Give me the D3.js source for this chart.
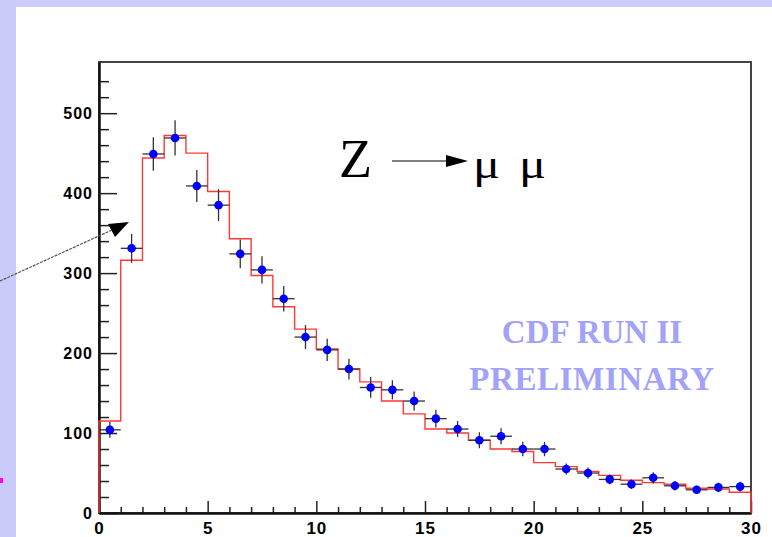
<!DOCTYPE html>
<html>
<head>
<meta charset="utf-8">
<script src="https://cdn.jsdelivr.net/npm/d3@7"></script>
<style>
    body { margin: 0; background: #ffffff; }
    .axis text { font-family: "Liberation Sans", Arial, sans-serif; font-weight: bold; fill: #000; }
</style>
</head>
<body>
<div id="chartdiv"></div>
<script>
// data
const binLowEdges = [0, 1, 2, 3, 4, 5, 6, 7, 8, 9, 10, 11, 12, 13, 14, 15, 16, 17, 18, 19, 20, 21, 22, 23, 24, 25, 26, 27, 28, 29];
const mcCounts = [115, 316, 444, 472, 450, 402, 343, 297, 258, 230, 205, 180, 164, 140, 124, 105, 100, 91, 80, 77, 63, 58, 52, 47, 41, 38, 36, 31, 30, 26];
const dataCounts = [104, 331, 449, 469, 409, 385, 324, 304, 268, 220, 204, 180, 157, 154, 140, 118, 105, 91, 96, 80, 80, 55, 50, 42, 36, 44, 34, 29, 32, 33];
const dataErrors = [10, 18, 21, 22, 20, 20, 18, 17, 16, 15, 14, 13, 13, 12, 12, 11, 10, 10, 10, 9, 9, 7, 7, 6, 6, 7, 6, 5, 6, 6];
const xTickLabels = [0, 5, 10, 15, 20, 25, 30];
const yTickLabels = [0, 100, 200, 300, 400, 500];
const binWidth = 1;

// draw
{
    let width = 772,
        height = 537,
        margin = { top: 62, right: 21, bottom: 24, left: 99 };

    let x = d3.scaleLinear()
        .domain([0, 30])
        .range([margin.left, width - margin.right]);
    let y = d3.scaleLinear()
        .domain([0, 564])
        .range([height - margin.bottom, margin.top]);

    let svg = d3.select("#chartdiv").append("svg")
        .attr("width", width)
        .attr("height", height);

    // lavender page border
    svg.append("rect").attr("x", 0).attr("y", 0).attr("width", width).attr("height", 7).attr("fill", "#cbcbfb");
    svg.append("rect").attr("x", 0).attr("y", 0).attr("width", 16).attr("height", height).attr("fill", "#cbcbfb");
    svg.append("rect").attr("x", 0).attr("y", 478).attr("width", 3).attr("height", 5).attr("fill", "#ff00ff");

    // frame
    svg.append("rect")
        .attr("x", margin.left)
        .attr("y", margin.top)
        .attr("width", width - margin.left - margin.right)
        .attr("height", height - margin.top - margin.bottom)
        .attr("fill", "none")
        .attr("stroke", "#444")
        .attr("stroke-width", 2);

    // minor ticks
    let yMinor = d3.range(0, 560, 20).filter(v => v % 100 != 0);
    svg.append("g")
        .attr("transform", "translate(" + margin.left + ",0)")
        .call(d3.axisLeft(y).tickValues(yMinor).tickSize(-10).tickFormat(""))
        .call(g => g.select(".domain").remove())
        .selectAll("line").attr("stroke", "#222").attr("stroke-width", 1.5);
    let xMinor = binLowEdges.filter(v => v % 5 != 0);
    svg.append("g")
        .attr("transform", "translate(0," + y(0) + ")")
        .call(d3.axisBottom(x).tickValues(xMinor).tickSize(-6).tickFormat(""))
        .call(g => g.select(".domain").remove())
        .selectAll("line").attr("stroke", "#222").attr("stroke-width", 1.5);

    // major axes
    let yAxis = svg.append("g")
        .attr("class", "axis")
        .attr("transform", "translate(" + margin.left + ",0)")
        .call(d3.axisLeft(y).tickValues(yTickLabels).tickSize(-18).tickSizeOuter(0).tickPadding(6));
    yAxis.selectAll("text").attr("font-size", 16).attr("letter-spacing", 1);
    let xAxis = svg.append("g")
        .attr("class", "axis")
        .attr("transform", "translate(0," + y(0) + ")")
        .call(d3.axisBottom(x).tickValues(xTickLabels).tickSize(-12).tickSizeOuter(0).tickPadding(9));
    xAxis.selectAll("text").attr("font-size", 17).attr("letter-spacing", 1);
    svg.selectAll(".axis line").attr("stroke", "#222").attr("stroke-width", 1.5);
    svg.selectAll(".axis .domain").attr("stroke", "#111").attr("stroke-width", 2.5);

    // MC histogram as steps
    let steps = [[0, 0]];
    for (let i = 0; i < binLowEdges.length; ++i) {
        steps.push([binLowEdges[i], mcCounts[i]]);
        steps.push([binLowEdges[i] + binWidth, mcCounts[i]]);
    }
    steps.push([binLowEdges[binLowEdges.length - 1] + binWidth, 0]);
    svg.append("path")
        .attr("d", d3.line().x(d => x(d[0])).y(d => y(d[1]))(steps))
        .attr("fill", "none")
        .attr("stroke", "#ff3838")
        .attr("stroke-width", 1.4);

    // data points with error bars
    let pts = binLowEdges.map((b, i) => ({ lo: b, n: dataCounts[i], e: dataErrors[i] }));
    let g = svg.append("g");
    g.selectAll(".errV")
        .data(pts)
        .enter()
        .append("line")
        .attr("x1", d => x(d.lo + binWidth / 2))
        .attr("x2", d => x(d.lo + binWidth / 2))
        .attr("y1", d => y(d.n - d.e))
        .attr("y2", d => y(d.n + d.e))
        .attr("stroke", "#333")
        .attr("stroke-width", 1.3);
    g.selectAll(".errH")
        .data(pts)
        .enter()
        .append("line")
        .attr("x1", d => x(d.lo))
        .attr("x2", d => x(d.lo + binWidth))
        .attr("y1", d => y(d.n))
        .attr("y2", d => y(d.n))
        .attr("stroke", "#333")
        .attr("stroke-width", 1.3);
    g.selectAll("circle")
        .data(pts)
        .enter()
        .append("circle")
        .attr("cx", d => x(d.lo + binWidth / 2))
        .attr("cy", d => y(d.n))
        .attr("r", 4.3)
        .attr("fill", "#0000ff");

    // Z -> mu mu
    svg.append("text")
        .attr("x", 339).attr("y", 177)
        .attr("font-family", "Liberation Serif, Times New Roman, serif")
        .attr("font-size", 54)
        .text("Z");
    svg.append("line")
        .attr("x1", 392).attr("y1", 161).attr("x2", 450).attr("y2", 161)
        .attr("stroke", "#000").attr("stroke-width", 1);
    svg.append("path")
        .attr("d", "M446,155 L468,161 L446,167 Z")
        .attr("fill", "#000");
    [473, 519].forEach(function(px) {
        svg.append("text")
            .attr("x", px).attr("y", 178)
            .attr("font-family", "Liberation Serif, Times New Roman, serif")
            .attr("font-size", 40)
            .attr("textLength", 27)
            .attr("lengthAdjust", "spacingAndGlyphs")
            .text("\u03bc");
    });

    // preliminary label
    svg.append("text")
        .attr("x", 592).attr("y", 343)
        .attr("text-anchor", "middle")
        .attr("font-family", "Liberation Serif, Times New Roman, serif")
        .attr("font-weight", "bold")
        .attr("font-size", 33)
        .attr("fill", "#a2a2f8")
        .text("CDF RUN II");
    svg.append("text")
        .attr("x", 592).attr("y", 390)
        .attr("text-anchor", "middle")
        .attr("font-family", "Liberation Serif, Times New Roman, serif")
        .attr("font-weight", "bold")
        .attr("font-size", 33)
        .attr("letter-spacing", 0.6)
        .attr("fill", "#a2a2f8")
        .text("PRELIMINARY");

    // arrow coming in from the left
    svg.append("line")
        .attr("x1", 0).attr("y1", 281).attr("x2", 112).attr("y2", 230)
        .attr("stroke", "#555").attr("stroke-width", 1.2)
        .attr("stroke-dasharray", "3,1");
    svg.append("path")
        .attr("d", "M129,222 L108,224 L115,237 Z")
        .attr("fill", "#000");
}
</script>
</body>
</html>
